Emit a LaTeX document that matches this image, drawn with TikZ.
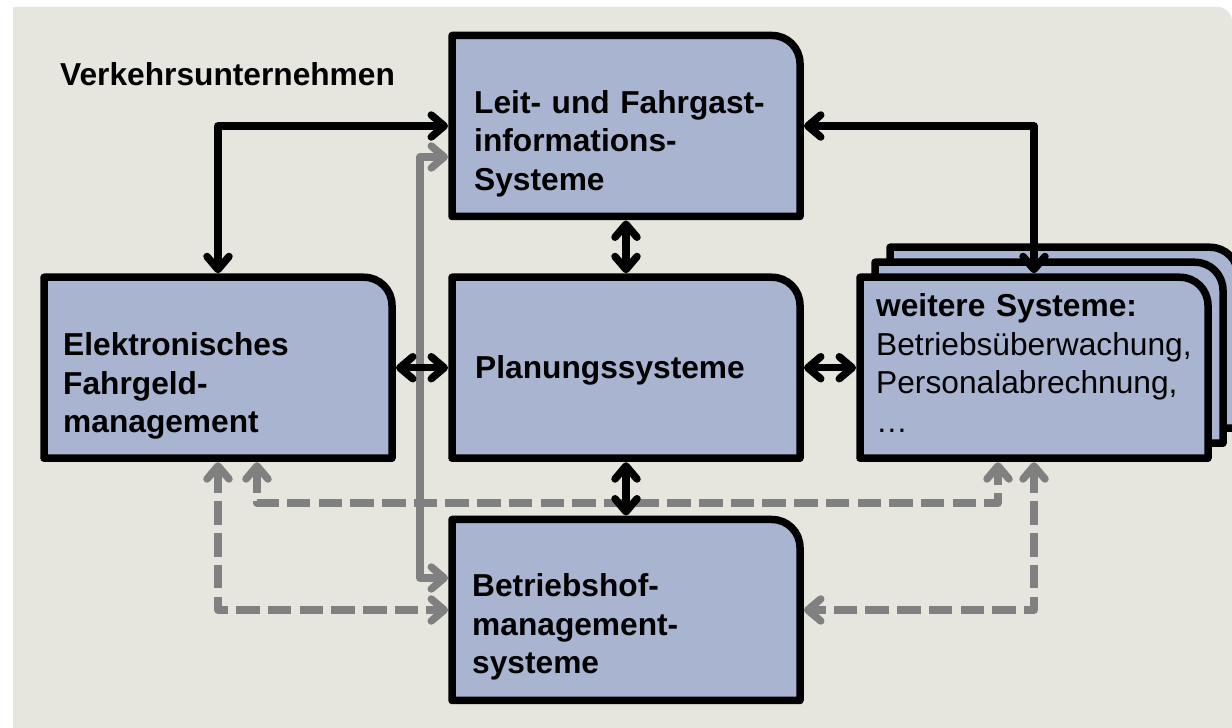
\documentclass[tikz,border=0pt]{standalone}
\usepackage{fontspec}
\setmainfont{Liberation Sans}
\usetikzlibrary{arrows.meta}
\definecolor{bgcol}{RGB}{230,230,222}
\definecolor{boxcol}{RGB}{169,180,208}
\definecolor{linkgray}{RGB}{128,128,128}
\newcommand\cornerrad{28pt}
% box outline: square corners except the rounded top-right one
\newcommand\sysoutline[1]{\filldraw[boxline] (#1.south west) -- (#1.north west) -- ([xshift=-\cornerrad]#1.north east) arc[start angle=90,end angle=0,radius=\cornerrad] -- (#1.south east) -- cycle;}
\begin{document}
\begin{tikzpicture}[x=1pt,y=1pt,
  sysbox/.style={rectangle, inner sep=0pt, outer sep=0pt, minimum width=348pt, minimum height=181pt},
  boxline/.style={line width=7.5pt, draw=black, fill=boxcol, line join=round},
  boxtext/.style={inner sep=0pt, anchor=base west, align=left, text width=340pt, font=\fontsize{31.7}{38.5}\selectfont\bfseries},
  linktip/.tip={Straight Barb[length=13pt,width=22pt,round]},
  connector/.style={line width=7.5pt, line join=round, linktip-linktip, shorten <=4pt, shorten >=4pt},
  blacklink/.style={connector, draw=black},
  graylink/.style={connector, draw=linkgray},
  dashedlink/.style={graylink, dash pattern=on 23.5pt off 8.2pt}]

\useasboundingbox (0,0) rectangle (1232,728);
% background panel
\fill[bgcol] (13,0) -- (13,721) -- (1218,721) arc[start angle=90,end angle=0,radius=14pt] -- (1232,0) -- cycle;

% system boxes
\node[sysbox] (weit3) at (1064,390.25) {};
\node[sysbox] (weit2) at (1049,375.25) {};
\node[sysbox] (weit)  at (1034,360.25) {};
\node[sysbox] (leit)  at (626,602) {};
\node[sysbox] (plan)  at (626,360.25) {};
\node[sysbox] (elek)  at (218,360.25) {};
\node[sysbox] (betr)  at (626,118) {};
\sysoutline{weit3}
\sysoutline{weit2}
\sysoutline{weit}
\sysoutline{leit}
\sysoutline{plan}
\sysoutline{elek}
\sysoutline{betr}

% texts
\node[boxtext] (title) at (60,642) {Verkehrsunternehmen};
\node[boxtext] (leit-text) at (474,614.5) {Leit- und Fahrgast-\\informations-\\Systeme};
\node[boxtext] (elek-text) at (63,372) {Elektronisches\\Fahrgeld-\\management};
\node[boxtext] (plan-text) at (475,349) {Planungssysteme};
\node[boxtext] (weit-text) at (876,411) {weitere Systeme:\\\mdseries Betriebsüberwachung,\\Personalabrechnung,\\…};
\node[boxtext] (betr-text) at (472,131) {Betriebshof-\\management-\\systeme};

% grey links
\draw[graylink] ([yshift=-31pt]leit.west) -- ++(-32pt,0) |- ([yshift=32pt]betr.west);
\draw[dashedlink] (elek.south) |- (betr.west);
\draw[dashedlink] ([xshift=39pt]elek.south) |- ([xshift=-36pt,yshift=-45pt]weit.south) -- ([xshift=-36pt]weit.south);
\draw[dashedlink] (weit.south) |- (betr.east);

% black links
\draw[blacklink] (leit.west) -| (elek.north);
\draw[blacklink] (leit.east) -| (weit.north);
\draw[blacklink] (leit.south) -- (plan.north);
\draw[blacklink] (elek.east) -- (plan.west);
\draw[blacklink] (plan.east) -- (weit.west);
\draw[blacklink] (plan.south) -- (betr.north);
\end{tikzpicture}
\end{document}
